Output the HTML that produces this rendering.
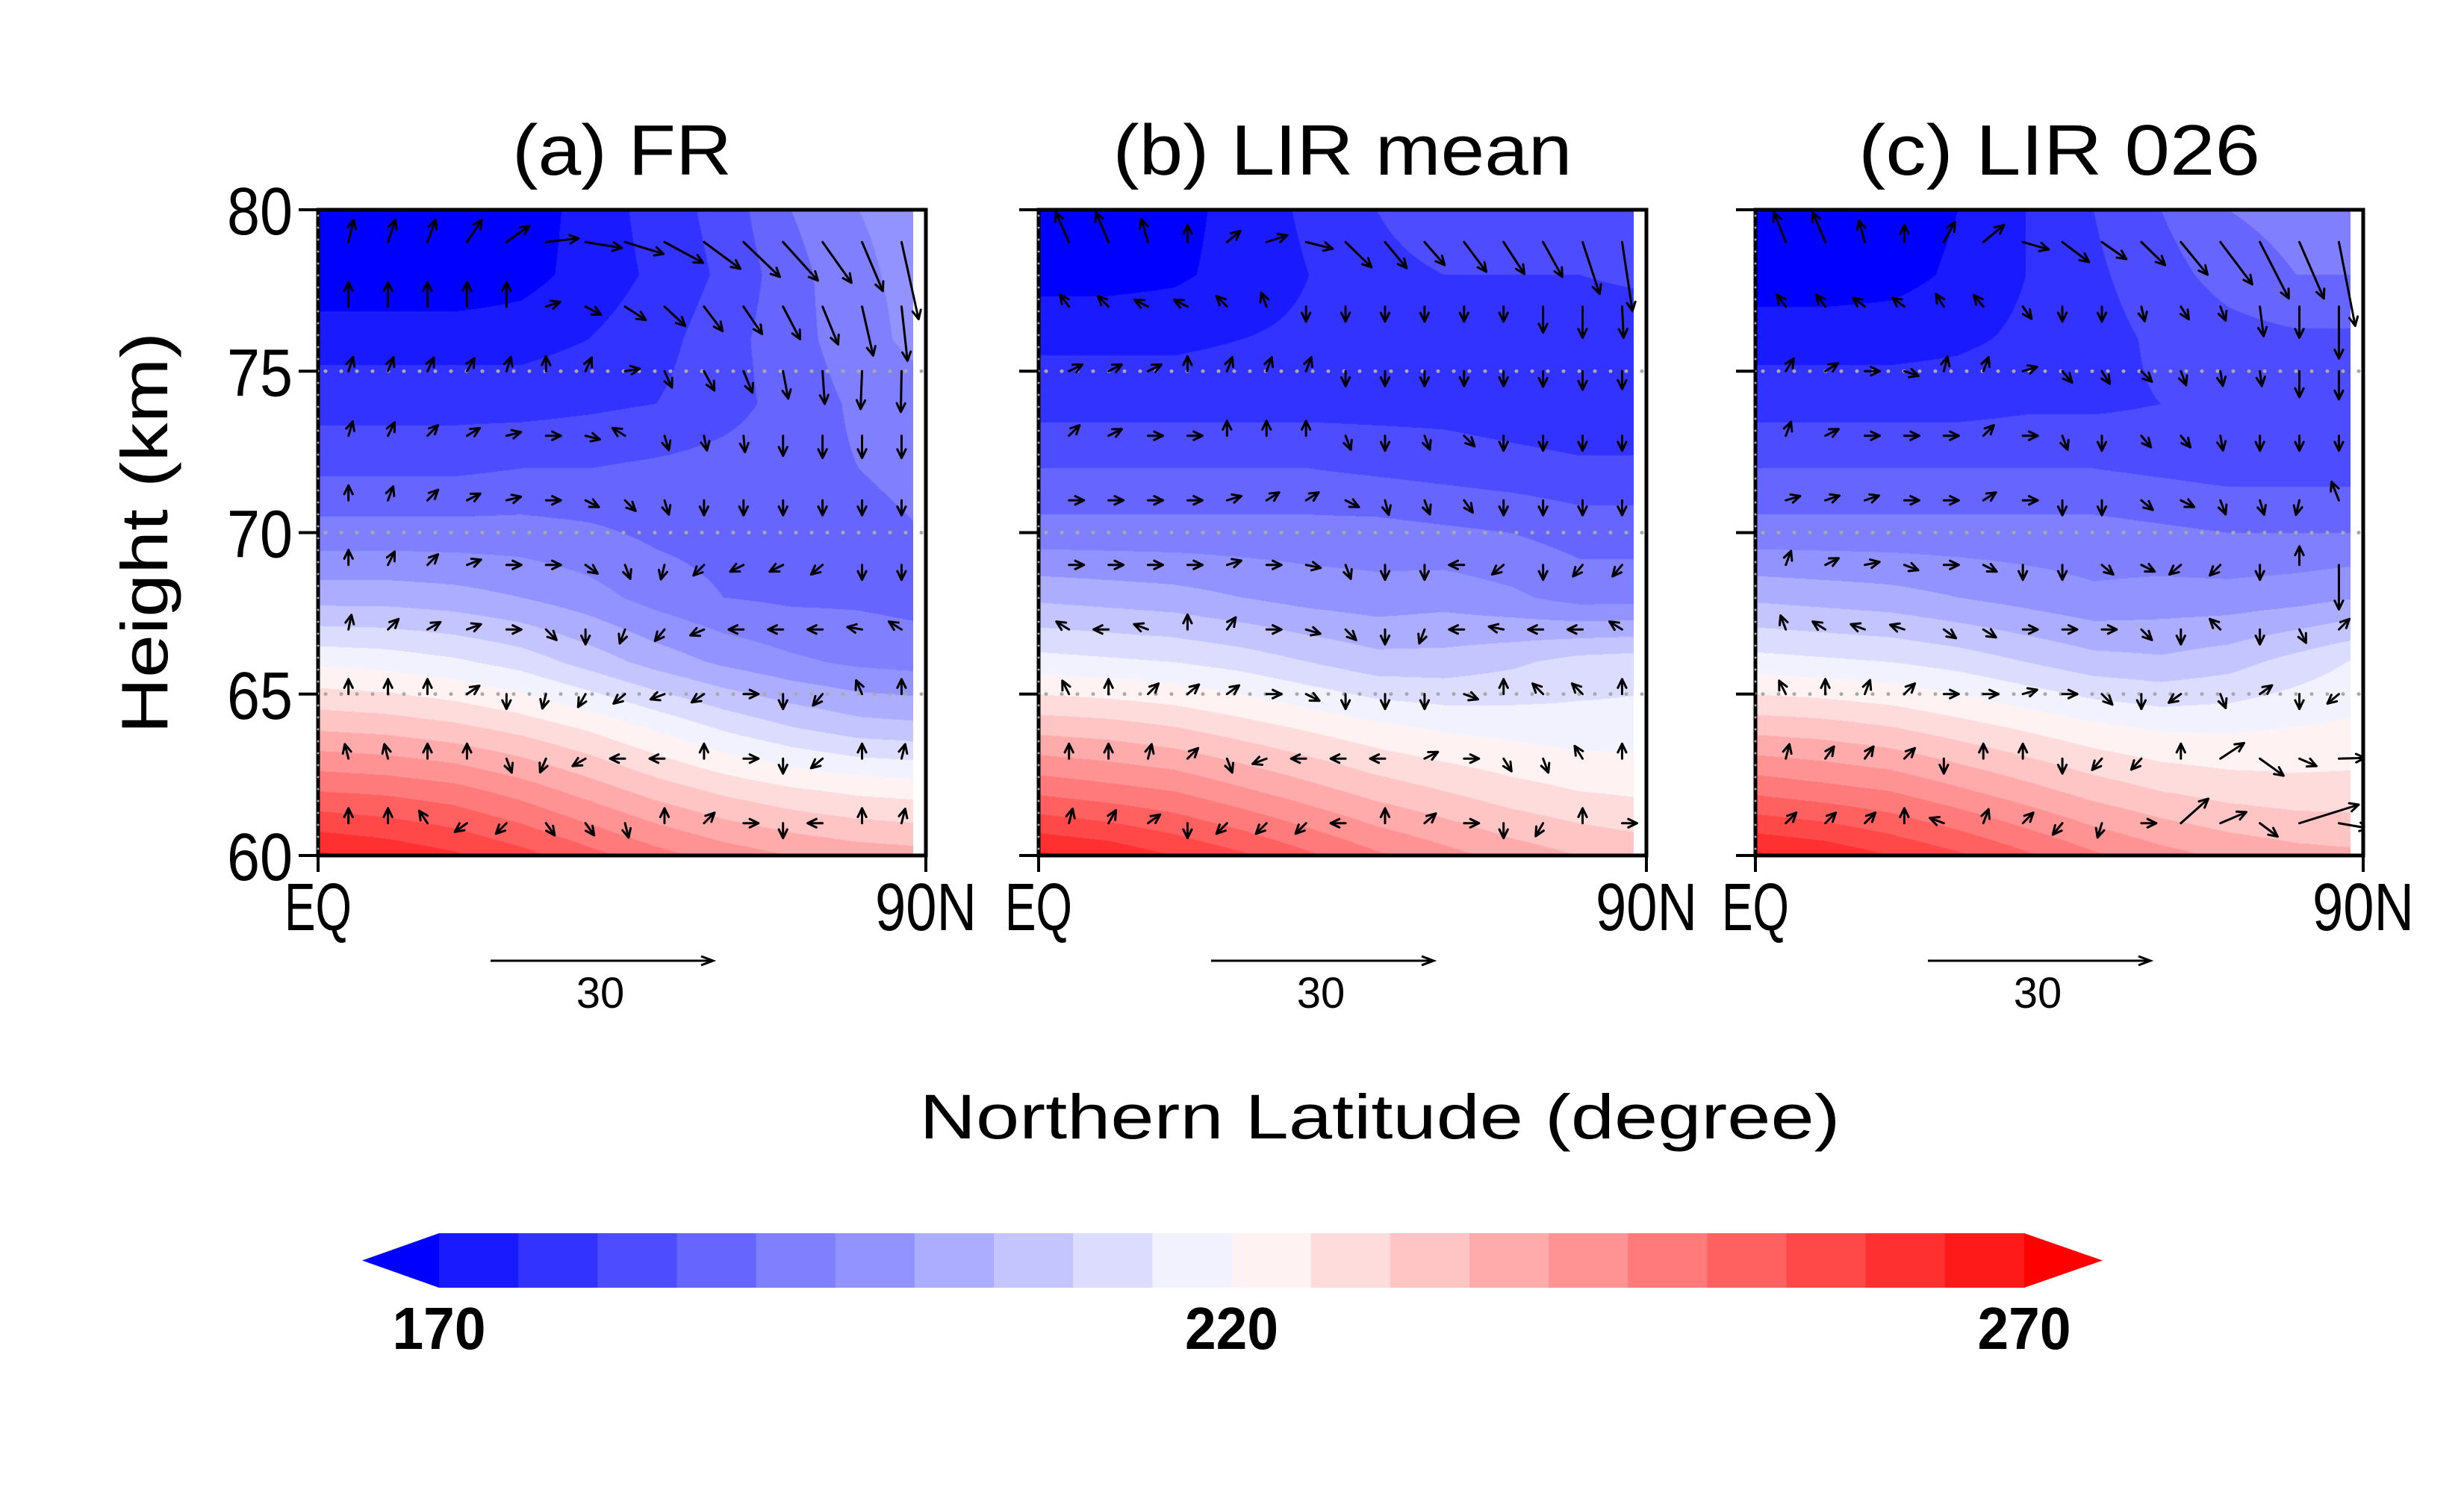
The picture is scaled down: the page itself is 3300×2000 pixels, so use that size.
<!DOCTYPE html>
<html><head><meta charset="utf-8"><style>
html,body{margin:0;padding:0;background:#fff;}
#wrap{position:relative;width:3300px;height:2000px;overflow:hidden;font-family:"Liberation Sans",sans-serif;}
canvas{position:absolute;}
svg{position:absolute;left:0;top:0;}
</style></head><body>
<div id="wrap">
<canvas id="cv0"></canvas>
<canvas id="cv1"></canvas>
<canvas id="cv2"></canvas>
<svg id="svg" width="3300" height="2000" xmlns="http://www.w3.org/2000/svg"></svg>
</div>
<script>
// ---------- data ----------
const panelTitles = ["(a) FR", "(b) LIR mean", "(c) LIR 026"];
const gridLats = [0,10,20,30,40,50,60,70,80,90];
const gridHeights = [80,78,76,74,72,70,68,66,64,62,60];
const tempA = [
[165,165,165,167,172,177,182,190,195,197],
[166,166,166,168,172,176,181,188,194,197],
[173,173,173,173,175,178,183,188,193,197],
[178,178,178,178,179,180,183,187,191,193],
[184,184,184,185,185,186,187,188,190,191],
[192,192,192,192,191,189,188,188,189,190],
[203,203,202,200,197,193,190,189,189,188],
[219,218,216,213,208,203,199,196,194,193],
[234,233,231,228,224,219,214,210,207,206],
[250,249,247,243,238,233,229,226,224,223],
[266,264,261,257,252,247,243,240,238,237]];
const tempB = [
[167,167,168,172,176,180,184,183,182,182],
[168,168,169,172,175,178,180,180,180,181],
[174,174,174,175,176,177,178,178,177,177],
[178,178,178,178,178,178,178,177,176,176],
[185,185,185,185,185,184,183,182,181,181],
[192,192,192,192,192,192,191,190,188,188],
[204,203,202,200,198,197,198,196,193,193],
[217,216,215,213,210,207,207,209,212,213],
[233,232,230,227,224,221,219,218,217,217],
[249,247,245,241,237,233,230,227,225,224],
[266,264,260,256,251,246,242,238,235,233]];
const tempC = [
[166,166,167,170,175,180,185,190,192,193],
[167,167,168,171,175,179,183,187,190,190],
[173,173,173,174,176,178,181,183,184,184],
[178,178,178,178,179,179,180,180,180,180],
[185,185,185,185,185,185,184,183,183,183],
[192,192,192,192,192,192,191,190,190,190],
[204,203,202,200,198,196,197,197,198,200],
[217,216,215,213,210,207,206,208,212,216],
[233,232,230,227,224,221,219,219,220,221],
[249,247,245,241,237,233,230,228,227,227],
[266,264,260,256,251,246,242,239,237,236]];
const levelColors = ["#0000ff","#1a1aff","#3333ff","#4d4dff","#6666ff","#8080ff","#9393ff","#adadff","#c4c4ff","#dcdcff","#f2f2ff",
"#fff2f2","#ffdcdc","#ffc4c4","#ffabab","#ff9393","#ff7a7a","#ff6060","#ff4848","#ff3030","#ff1a1a","#ff0000"];
const levelMin = 170, levelStep = 5;
const cbLabels = [170, 220, 270];
const yTicks = [80,75,70,65,60];
const gridLines = [75,70,65];
const vecHeights = [79,77,75,73,71,69,67,65,63,61];
const vecLats = [4.5,10.35,16.2,22.05,27.9,33.75,39.6,45.45,51.3,57.15,63,68.85,74.7,80.55,86.4];
const uA = [
[0.7,1.0,1.1,2.0,3.1,4.4,4.9,5.2,5.2,4.9,4.9,4.7,3.9,2.8,2.3],
[0,0,0,0,0,1.5,2.1,2.8,2.8,2.5,2.5,2.3,2.1,1.5,0.8],
[0.5,0.6,0.7,0.8,0.4,0,0.5,1.2,1,1.4,1.2,0.7,0.3,-0.2,-0.1],
[0.3,0.5,0.8,1,1.2,1.3,1.2,-0.8,0.3,0.3,0.2,0,0,0,0],
[0,0.3,0.6,0.8,0.8,1,0.8,0.6,0.3,0,0,0,0,0,0],
[0,0.4,0.6,0.8,0.9,1,0.7,0.3,-0.2,-0.6,-0.8,-0.8,-0.6,0,0],
[0.2,0.6,0.7,0.8,1,0.6,0,-0.3,-0.5,-0.7,-0.9,-1,-1,-1.2,-0.8],
[0,0,0,0.6,0,-0.2,-0.4,-0.6,-0.8,-0.6,0.8,0,-0.5,-0.3,0],
[-0.2,-0.2,0,0,0.3,-0.3,-0.7,-0.8,-0.8,0,0.8,0,-0.6,0,0.3],
[0,0,-0.4,-0.7,-0.6,0.5,0.5,0.2,0,0.6,0.8,0,-0.8,0,0.3]];
const wA = [
[3.0,3.0,3.0,3.0,2.2,0.5,-0.8,-1.6,-2.8,-3.6,-4.7,-5.2,-5.5,-6.6,-10.4],
[3.3,3.3,3.3,3.3,3.3,0.5,-1.1,-1.8,-2.6,-3.3,-3.7,-4.4,-5.1,-6.6,-7.3],
[1.5,1.5,1.5,1.4,1.3,1.2,1.1,0.2,-2.2,-2.6,-2.9,-3.7,-4.4,-5.1,-5.5],
[1,1,0.8,0.6,0.3,0,-0.3,0.5,-1,-1.5,-2.2,-2.7,-3,-3,-3],
[1,0.8,0.6,0.4,0.2,0,-0.4,-0.6,-1,-1.2,-1.3,-1.5,-1.7,-1.5,-1.3],
[1,0.8,0.6,0.3,0,0,-0.5,-0.8,-0.8,-0.6,-0.4,-0.4,-0.5,-0.8,-0.8],
[1,0.6,0.4,0.3,0,-0.6,-1,-0.8,-0.6,-0.3,0,0,0,0.2,0.5],
[0.8,0.8,0.8,0.4,-0.8,-0.8,-0.7,-0.5,-0.3,-0.4,0,-1,-0.6,0.7,0.8],
[0.8,0.8,0.8,0.8,-0.8,-0.7,-0.4,0,0,0.8,0,-1,-0.5,1.2,1.2],
[0.8,0.8,0.6,-0.5,-0.6,-0.7,-0.7,-0.8,0.8,0.6,0,-1,0,1.2,1.2]];
const uB = [
[-1.8,-1.7,-0.9,0,1.8,2.8,3.6,3.5,2.9,2.7,3,2.8,2.6,2.3,1.4],
[-0.6,-0.7,-1.2,-1.2,-0.8,-0.3,0,0,0,0,0,0,0,0,0.2],
[1,1,1,0,0.3,0.3,0.3,0,0,0,0,0,0,0,0],
[0.6,0.8,1,1,0,0,0,0.3,0,0.3,0.6,0,0,0,0],
[1,1,1,1,1,0.8,0.8,0.8,0.2,0.3,0.5,0,0,0,0],
[1,1,1,1,1,1,1,0.3,0,0,-0.9,-0.6,0,-0.5,-0.5],
[-0.8,-1,-0.8,0,0.5,1,1,0.6,0,-0.3,-1,-1,-1,-1,-0.8],
[-0.4,0,0.6,0.6,0.7,1,0.8,0,0,0,0.8,0,-0.6,-0.6,0],
[0,0,0.2,0.6,0.3,-0.8,-0.8,-1,-1,0.8,1,0.5,0.3,-0.5,0],
[0.2,0.4,0.7,0,-0.6,-0.6,-0.6,-0.8,0,0.7,1,0,-0.4,0,1]];
const wB = [
[4,4,3.1,2.3,1.5,0.9,-0.9,-3.4,-3.5,-3.1,-4,-4.3,-4.7,-7,-9.3],
[0.8,0.7,0.6,0.6,0.8,0.8,-0.8,-1.8,-1.6,-1.5,-1.7,-2,-3.5,-4.2,-4.2],
[0.5,0.5,0.5,0.8,0.8,0.8,0.8,-0.8,-1,-1,-1.1,-1.5,-2.1,-2.5,-2.4],
[0.6,0.4,0,0,0.8,0.8,0.8,-0.8,-1,-0.8,-0.6,-1.3,-1.5,-1.5,-1.3],
[0,0,0,0,0.3,0.5,0.5,-0.4,-0.8,-0.8,-0.7,-1,-1.1,-1,-0.8],
[0,0,0,0,0.3,0,-0.2,-0.8,-0.8,-0.8,0,-0.5,-0.8,-0.6,-0.6],
[0.5,0,0.3,0.8,0.7,0,-0.3,-0.6,-0.8,-0.8,0,0.2,0,0,0.5],
[0.8,0.8,0.6,0.5,0.5,0,-0.4,-0.8,-0.8,-0.8,-0.3,0.8,0.6,0.6,0.8],
[0.8,0.8,0.8,0.6,-0.8,-0.3,0,0,0,0.4,0,-0.8,-0.8,0.8,0.8],
[0.8,0.7,0.5,-0.8,-0.6,-0.6,-0.6,0,0.8,0.6,0,-0.9,-0.7,0.8,0]];
const uC = [
[-1.6,-1.7,-0.8,0,1.5,2.8,3.5,3.6,3.3,3.2,3.6,4.3,3.9,3.3,2.2],
[-0.6,-0.6,-0.8,-0.8,-0.5,-0.5,0.5,0,0,0.3,0.5,0.6,0.5,0,0],
[0.5,0.8,1,0.9,0.2,0.3,1,0.6,0.5,0.6,0.3,0.2,0.2,0,0],
[0.3,0.8,1,1,1,0.6,1,0.3,0,0.5,0.5,0.2,0,0,0],
[1,0.9,0.9,1,1,0.8,1,0,0,0.6,0.8,0.3,0.3,-0.3,-1],
[0.3,0.8,1,0.8,1,0.8,0,0,0.6,0.8,-0.6,-0.6,0,0,0],
[-0.3,-0.8,-0.8,-0.9,0.7,0.8,1,1,1,0.6,0,-0.6,0,0.4,0.6],
[-0.4,0,0.3,0.6,1,1,1,1,0.6,0,-0.7,0.3,0.7,0,-0.6],
[0.2,0.5,0.5,0.6,0,0,0,0,-0.6,-1.1,0,3.2,3.2,2.3,3.5],
[0.6,0.6,0.6,0,-0.8,0.3,0.6,-0.5,-0.3,1,3.7,3.5,2.4,8,4]];
const wC = [
[4,4,2.9,2.3,2.7,2.3,-1,-2.7,-2.3,-3.1,-4.4,-5.7,-7.6,-7.6,-11.3],
[0.8,0.8,0.6,0.6,0.8,0.6,-0.7,-1.6,-1.6,-1.3,-0.8,-1.6,-4,-4.2,-7],
[0.8,0.5,0,-0.3,0.8,0.8,0.3,-0.7,-0.8,-0.6,-0.8,-1.2,-1.5,-3.5,-3.8],
[0.8,0.4,0,0,0,0.6,0,-0.8,-0.9,-0.6,-0.6,-1.1,-1.2,-1.4,-1.2],
[0.3,0.3,0.3,0,0,0.5,0,-0.9,-0.9,-0.5,-0.4,-0.8,-1,-1.3,2.5],
[0.8,0.4,0.2,-0.3,0,-0.4,-0.9,-0.9,-0.5,-0.4,-0.5,-0.6,-1.2,2.5,-6],
[0.8,0.5,0.3,0.3,-0.5,-0.5,0,0,0,-0.6,-0.9,0.6,-0.9,-0.8,0.6],
[0.8,0.8,0.8,0.6,0,0,0.3,0,-0.6,-0.9,-0.5,-0.8,0.5,-0.9,-0.5],
[0.8,0.7,0.7,0.6,-0.9,0.8,0.8,-0.9,-0.7,-1.2,0.8,2.1,-2.3,-1,0.1],
[0.6,0.6,0.6,0.8,0.3,0.8,0.6,-0.6,-1,0,3.3,1.5,-1.8,2.5,-0.7]];
const temps = [tempA, tempB, tempC];
const us = [uA, uB, uC];
const ws = [wA, wB, wC];
const refVectorValue = 30;

// ---------- layout ----------
const panelLefts = [426, 1391, 2351];
const PW = 814, PT = 281, PB = 1146, DATAW = 797;
const pxPerUnit = 298 / refVectorValue;
function yScale(h){ return PT + (80 - h) / 20 * (PB - PT); }
function xScale(p, lat){ return panelLefts[p] + lat / 90 * PW; }

const NS = "http://www.w3.org/2000/svg";
const svg = document.getElementById('svg');
function el(tag, attrs, parent){
  const e = document.createElementNS(NS, tag);
  for (const k in attrs) e.setAttribute(k, attrs[k]);
  (parent || svg).appendChild(e);
  return e;
}
function hexRGB(h){ return [parseInt(h.substr(1,2),16),parseInt(h.substr(3,2),16),parseInt(h.substr(5,2),16)]; }
const rgbs = levelColors.map(hexRGB);

function sample(T, lat, h){
  let fx = lat / 10, fy = (80 - h) / 2;
  fx = Math.max(0, Math.min(gridLats.length - 1.0001, fx));
  fy = Math.max(0, Math.min(gridHeights.length - 1.0001, fy));
  const i = Math.floor(fx), j = Math.floor(fy), a = fx - i, b = fy - j;
  return T[j][i]*(1-a)*(1-b) + T[j][i+1]*a*(1-b) + T[j+1][i]*(1-a)*b + T[j+1][i+1]*a*b;
}

for (let p = 0; p < 3; p++) {
  const cv = document.getElementById('cv' + p);
  const W = DATAW, H = PB - PT;
  cv.width = W; cv.height = H;
  cv.style.left = panelLefts[p] + 'px'; cv.style.top = PT + 'px';
  const ctx = cv.getContext('2d');
  const img = ctx.createImageData(W, H);
  for (let y = 0; y < H; y++) {
    const h = 80 - y / H * 20;
    for (let x = 0; x < W; x++) {
      const lat = x / PW * 90;
      const t = sample(temps[p], lat, h);
      let i = t < levelMin ? 0 : Math.floor((t - levelMin) / levelStep) + 1;
      if (i > rgbs.length - 1) i = rgbs.length - 1;
      const c = rgbs[i], o = (y * W + x) * 4;
      img.data[o] = c[0]; img.data[o+1] = c[1]; img.data[o+2] = c[2]; img.data[o+3] = 255;
    }
  }
  ctx.putImageData(img, 0, 0);
}

const defs = el('defs', {});
for (let p = 0; p < 3; p++) {
  const cp = el('clipPath', {id: 'clip' + p}, defs);
  el('rect', {x: panelLefts[p], y: PT, width: PW, height: PB - PT}, cp);
}

const ids = ['a','b','c'];
for (let p = 0; p < 3; p++) {
  const L = panelLefts[p], R = L + PW;
  const g = el('g', {});
  
  
  gridLines.forEach(h => {
    const ln = el('line', {x1: L + 10, x2: R, y1: yScale(h), y2: yScale(h), stroke: '#a8a8a8', 'stroke-width': 5, 'stroke-dasharray': '0 21', 'stroke-linecap': 'round'}, g);
    
    
  });
  const vg = el('g', {'clip-path': 'url(#clip' + p + ')', stroke: '#000', 'stroke-width': 3, fill: 'none', 'stroke-linecap': 'round', 'stroke-linejoin': 'round'}, g);
  
  
  for (let r = 0; r < vecHeights.length; r++) {
    for (let c = 0; c < vecLats.length; c++) {
      const u = us[p][r][c], w = ws[p][r][c];
      const mag = Math.hypot(u, w);
      if (mag === 0) continue;
      const len = Math.max(mag * pxPerUnit, 20);
      const dx = u / mag * len, dy = -w / mag * len;
      const x0 = xScale(p, vecLats[c]), y0 = yScale(vecHeights[r]);
      const x1 = x0 + dx, y1 = y0 + dy;
      const ang = Math.atan2(dy, dx), hl = 13, ha = 0.45;
      const d = `M${x0},${y0}L${x1},${y1}M${x1 - hl*Math.cos(ang-ha)},${y1 - hl*Math.sin(ang-ha)}L${x1},${y1}L${x1 - hl*Math.cos(ang+ha)},${y1 - hl*Math.sin(ang+ha)}`;
      const a = el('path', {d: d}, vg);
      
      
    }
  }
  const fr = el('rect', {x: L, y: PT, width: PW, height: PB - PT, fill: 'none', stroke: '#000', 'stroke-width': 5}, g);
  
  
  const ld = el('line', {x1: L, x2: L, y1: PT + 8, y2: PB, stroke: '#a8a8a8', 'stroke-width': 3, 'stroke-dasharray': '0 16', 'stroke-linecap': 'round'}, g);
  
  
  yTicks.forEach(h => {
    const t = el('line', {x1: L - 26, x2: L, y1: yScale(h), y2: yScale(h), stroke: '#000', 'stroke-width': 4}, g);
    
    
    if (p === 0) {
      const tx = el('text', {x: L - 34, y: yScale(h) + 33, 'text-anchor': 'end', 'font-size': 90, textLength: 88, lengthAdjust: 'spacingAndGlyphs'}, g);
      tx.textContent = h;
      
      
    }
  });
  [L, R].forEach((x, k) => {
    const t = el('line', {x1: x, x2: x, y1: PB, y2: PB + 22, stroke: '#000', 'stroke-width': 4}, g);
    
    
    const tx = el('text', {x: x, y: PB + 100, 'text-anchor': 'middle', 'font-size': 90, textLength: k ? 136 : 90, lengthAdjust: 'spacingAndGlyphs'}, g);
    tx.textContent = k ? '90N' : 'EQ';
    
    
  });
  const tl = el('text', {x: L + PW / 2, y: 234, 'text-anchor': 'middle', 'font-size': 96, textLength: [294, 615, 538][p], lengthAdjust: 'spacingAndGlyphs'}, g);
  tl.textContent = panelTitles[p];
  
  
  const rx0 = L + 231, rx1 = rx0 + refVectorValue * pxPerUnit, ry = 1287;
  const rv = el('path', {d: `M${rx0},${ry}L${rx1},${ry}M${rx1-16},${ry-6}L${rx1},${ry}L${rx1-16},${ry+6}`, stroke: '#000', 'stroke-width': 3, fill: 'none'}, g);
  
  
  const rl = el('text', {x: L + 378, y: 1350, 'text-anchor': 'middle', 'font-size': 58}, g);
  rl.textContent = refVectorValue;
  
  
}

const xt = el('text', {x: 1848, y: 1525, 'text-anchor': 'middle', 'font-size': 84, textLength: 1233, lengthAdjust: 'spacingAndGlyphs'});
xt.textContent = 'Northern Latitude (degree)';


const yt = el('text', {x: 0, y: 0, 'text-anchor': 'middle', 'font-size': 88, textLength: 538, lengthAdjust: 'spacingAndGlyphs', transform: 'translate(224,714) rotate(-90)'});
yt.textContent = 'Height (km)';



const CB0 = 588, CB1 = 2711, CBT = 1652, CBB = 1725;
const cb = el('g', {});


const nseg = levelColors.length - 2, segW = (CB1 - CB0) / nseg;
for (let i = 0; i < nseg; i++) {
  const r = el('rect', {x: CB0 + i * segW, y: CBT, width: segW + 0.8, height: CBB - CBT, fill: levelColors[i + 1]}, cb);
  
  
}
const tipL = el('polygon', {points: `${CB0},${CBT} ${CB0},${CBB} 485,${(CBT+CBB)/2}`, fill: levelColors[0]}, cb);


const tipR = el('polygon', {points: `${CB1},${CBT} ${CB1},${CBB} 2816,${(CBT+CBB)/2}`, fill: levelColors[levelColors.length-1]}, cb);


cbLabels.forEach(v => {
  const x = CB0 + (v - levelMin) / (levelStep * nseg) * (CB1 - CB0);
  const t = el('text', {x: x, y: 1807, 'text-anchor': 'middle', 'font-size': 80, 'font-weight': 'bold', textLength: 125, lengthAdjust: 'spacingAndGlyphs'}, cb);
  t.textContent = v;
  
  
});
</script>
</body></html>
